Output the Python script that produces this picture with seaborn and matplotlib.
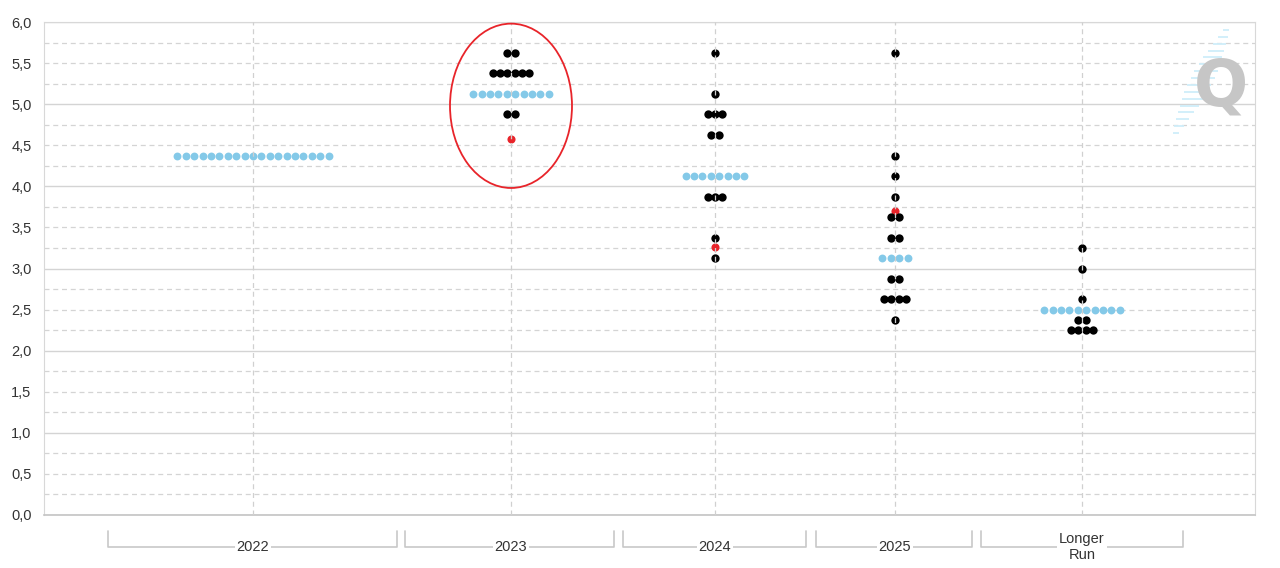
import numpy as np
import pandas as pd
import matplotlib
matplotlib.use("Agg")
import matplotlib.pyplot as plt
import matplotlib.transforms as mtransforms
from matplotlib.patches import Ellipse
import seaborn as sns

# --- data ---
cats = ["2022", "2023", "2024", "2025", "Longer\nRun"]

# participant dots (black): category, rate, how many dots side by side
dot_cat = ["2023"] * 3 + ["2024"] * 7 + ["2025"] * 9 + ["Longer\nRun"] * 5
dot_rate = [5.625, 5.375, 4.875,
            5.625, 5.125, 4.875, 4.625, 3.875, 3.375, 3.125,
            5.625, 4.375, 4.125, 3.875, 3.625, 3.375, 2.875, 2.625, 2.375,
            3.25, 3.0, 2.625, 2.375, 2.25]
dot_count = [2, 6, 2,
             1, 1, 3, 2, 3, 1, 1,
             1, 1, 1, 1, 2, 2, 2, 4, 1,
             1, 1, 1, 2, 4]

# median row (light blue)
median_cat = cats
median_rate = [4.375, 5.125, 4.125, 3.125, 2.5]
median_count = [19, 10, 8, 4, 10]

# previous projection (red)
prev_cat = ["2023", "2024", "2025"]
prev_rate = [4.57, 3.26, 3.70]

# --- layout (pixel-like x axis, categories are unevenly spaced) ---
cat_x = dict(zip(cats, [253, 511, 715, 895, 1082]))
bracket_x0 = [108, 405, 623, 816, 981]
bracket_x1 = [397, 614, 806, 972, 1183]


def expand(cat_list, rates, counts, pitch, kind):
    rows = []
    for c, r, n in zip(cat_list, rates, counts):
        for i in range(n):
            rows.append({"x": cat_x[c] + (i - (n - 1) / 2) * pitch, "rate": r, "kind": kind})
    return pd.DataFrame(rows)


black = expand(dot_cat, dot_rate, dot_count, 7.2, "dot")
blue = expand(median_cat, median_rate, median_count, 8.4, "median")
red = expand(prev_cat, prev_rate, [1] * len(prev_cat), 0, "prev")

sns.set_style("white")
plt.rcParams['font.family'] = ['Liberation Sans', 'DejaVu Sans']

fig = plt.figure(figsize=(12.8, 5.68), dpi=100)
ax = fig.add_axes([44 / 1280, 1 - 515 / 568, (1255 - 44) / 1280, (515 - 22) / 568])

# horizontal grid: solid at integers, dashed at quarters
for v in np.arange(0, 6.01, 0.25):
    if abs(v - round(v)) < 1e-9:
        ax.axhline(v, color="#d4d4d4", lw=1.0, zorder=0)
    else:
        ax.axhline(v, color="#d4d4d4", lw=0.9, ls=(0, (4, 3)), zorder=0)

sns.scatterplot(data=red, x="x", y="rate", color="#e8242a", s=34, linewidth=0,
                legend=False, ax=ax, zorder=2)
sns.scatterplot(data=blue, x="x", y="rate", color="#84c9e8", s=32, linewidth=0,
                legend=False, ax=ax, zorder=3)
sns.scatterplot(data=black, x="x", y="rate", color="#000000", s=36, linewidth=0,
                legend=False, ax=ax, zorder=3)

# vertical dashed lines at category centres, drawn over the dots
for c in cats:
    ax.axvline(cat_x[c], color="#d0d0d0", lw=0.9, ls=(0, (4, 3)), zorder=4)

# hand-drawn red loop around the 2023 column
ax.add_patch(Ellipse((cat_x["2023"], 4.98), 122, 2.0, fill=False,
                     edgecolor="#e8242a", lw=1.3, zorder=5))

ax.set_xlim(44, 1255)
ax.set_ylim(0, 6)
ax.set_xlabel("")
ax.set_ylabel("")

yt = np.arange(0, 6.01, 0.5)
ax.set_yticks(yt)
ax.set_yticklabels([f"{v:.1f}".replace(".", ",") for v in yt], fontsize=10.5, color="#333333")
ax.set_yticks([0, 2, 4, 6], minor=True)
ax.tick_params(axis="y", which="major", length=0, pad=9)
ax.tick_params(axis="y", which="minor", length=7, color="#c8c8c8", width=1)

ax.set_xticks([cat_x[c] for c in cats])
ax.set_xticklabels([])
ax.tick_params(axis="x", length=9, color="#d0d0d0", width=1)

for side in ["left", "right", "top"]:
    ax.spines[side].set_color("#d8d8d8")
ax.spines["bottom"].set_color("#c4c4c4")
ax.spines["bottom"].set_linewidth(1.2)

# brackets with category names under the axis
trans = mtransforms.blended_transform_factory(ax.transData, ax.transAxes)
y_top, y_bot = -0.032, -0.065
for c, x0, x1 in zip(cats, bracket_x0, bracket_x1):
    ax.plot([x0, x0, x1, x1], [y_top, y_bot, y_bot, y_top], transform=trans,
            color="#c8c8c8", lw=1.2, clip_on=False, zorder=1)
    ax.text(cat_x[c], y_bot, c, transform=trans, ha="center", va="center",
            fontsize=10.5, color="#333333", linespacing=1.2,
            bbox=dict(facecolor="white", edgecolor="none", pad=1.5), zorder=2)

# watermark logo
for k in range(16):
    t = k / 15
    xc = 1176 + t * 50
    yc = 133 - t * 103
    half = 3 + 9 * np.sin(np.pi * t)
    ax.plot([xc - half, xc + half], [(515 - yc) / 82.17] * 2, color="#cfeefa",
            lw=1.3, zorder=1, solid_capstyle="butt")
ax.text(0.972, 0.868, "Q", transform=ax.transAxes, ha="center", va="center",
        fontsize=46, fontweight="bold", color="#c6c6c6", zorder=1,
        family="DejaVu Sans")

fig.savefig("out.png", dpi=100)
